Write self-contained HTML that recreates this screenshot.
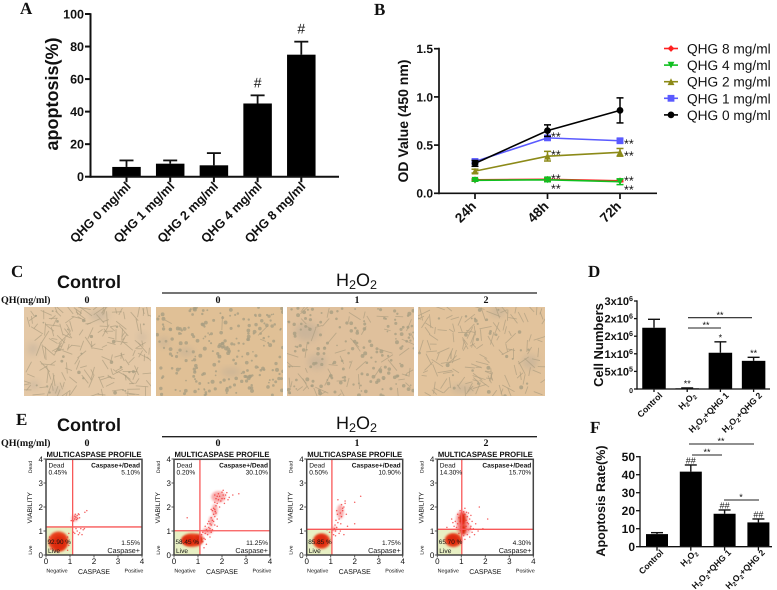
<!DOCTYPE html>
<html lang="en">
<head>
<meta charset="utf-8">
<title>QHG apoptosis figure</title>
<style>
html,body{margin:0;padding:0;background:#fff;width:777px;height:590px;overflow:hidden}
svg#fig{display:block;filter:blur(0.35px)}
text{font-family:"Liberation Sans",sans-serif;fill:#111;text-rendering:geometricPrecision}
.letter{font-family:"Liberation Serif",serif;font-weight:bold;font-size:17px}
.qh{font-family:"Liberation Serif",serif;font-weight:bold;font-size:10px}
.num{font-family:"Liberation Serif",serif;font-weight:bold;font-size:10px;text-anchor:middle}
.head-b{font-weight:bold;font-size:18px}
.head-n{font-size:18px}
</style>
</head>
<body>
<svg id="fig" xmlns="http://www.w3.org/2000/svg" width="777" height="590" viewBox="0 0 777 590">
  <rect width="777" height="590" fill="#fff"/>
  <text class="letter" x="20" y="14">A</text>
  <text class="letter" x="374" y="15">B</text>
  <text class="letter" x="11" y="277">C</text>
  <text class="letter" x="588" y="277">D</text>
  <text class="letter" x="16" y="425">E</text>
  <text class="letter" x="590" y="433">F</text>

  <text class="head-b" x="57" y="288">Control</text>
  <text class="head-n" x="336" y="286">H<tspan baseline-shift="-2.5" font-size="70%">2</tspan>O<tspan baseline-shift="-2.5" font-size="70%">2</tspan></text>
  <line x1="162" x2="537" y1="293" y2="293" stroke="#222" stroke-width="1.3"/>
  <text class="qh" x="1" y="303">QH(mg/ml)</text>
  <text class="num" x="87" y="303">0</text>
  <text class="num" x="218" y="303">0</text>
  <text class="num" x="357" y="303">1</text>
  <text class="num" x="486" y="303">2</text>

  <text class="head-b" x="57" y="431">Control</text>
  <text class="head-n" x="336" y="429">H<tspan baseline-shift="-2.5" font-size="70%">2</tspan>O<tspan baseline-shift="-2.5" font-size="70%">2</tspan></text>
  <line x1="162" x2="537" y1="436.7" y2="436.7" stroke="#222" stroke-width="1.3"/>
  <text class="qh" x="1" y="446">QH(mg/ml)</text>
  <text class="num" x="87" y="446">0</text>
  <text class="num" x="218" y="446">0</text>
  <text class="num" x="357" y="446">1</text>
  <text class="num" x="486" y="446">2</text>
</svg>
<script>
/* ---------- Panel A data ---------- */
const aCategories = ["QHG 0 mg/ml","QHG 1 mg/ml","QHG 2 mg/ml","QHG 4 mg/ml","QHG 8 mg/ml"];
const aValues = [6, 8, 7, 45, 75];
const aErrorTops = [10, 10, 14.5, 50, 83];
const aMarks = ["","","","#","#"];
const aTicks = [0,20,40,60,80,100];

/* ---------- Panel B data ---------- */
const bTimes = ["24h","48h","72h"];
const bTicks = [0,0.5,1,1.5];
const bSeriesNames = ["QHG 8 mg/ml","QHG 4 mg/ml","QHG 2 mg/ml","QHG 1 mg/ml","QHG 0 mg/ml"];
const bQhg8 = [0.14, 0.145, 0.13];
const bQhg4 = [0.135, 0.14, 0.12];
const bQhg2 = [0.23, 0.385, 0.425];
const bQhg1 = [0.33, 0.575, 0.545];
const bQhg0 = [0.31, 0.65, 0.86];
const bErr8 = [0.01, 0.01, 0.01];
const bErr4 = [0.01, 0.02, 0.03];
const bErr2 = [0.02, 0.05, 0.04];
const bErr1 = [0.02, 0.02, 0.02];
const bErr0 = [0.03, 0.06, 0.13];

/* ---------- Panel D data ---------- */
const dCategories = ["Control","H_2O_2","H_2O_2+QHG 1","H_2O_2+QHG 2"];
const dValues = [1740000, 20000, 1030000, 800000];
const dErrorTops = [1980000, 30000, 1340000, 900000];
const dMarks = ["","**","*","**"];
const dTicks = [0,500000,1000000,1500000,2000000,2500000];
const dTickLabels = ["0","5x10^5","1x10^6","2x10^6","2x10^6","3x10^6"];

/* ---------- Panel F data ---------- */
const fCategories = ["Control","H_2O_2","H_2O_2+QHG 1","H_2O_2+QHG 2"];
const fValues = [7, 41.7, 18.3, 13.5];
const fErrorTops = [7.8, 45.4, 20.4, 15.4];
const fMarks = ["","##","##","##"];
const fTicks = [0,10,20,30,40,50];

/* ---------- Panel E data (axis units, 0-4) ---------- */
const flowDead = ["0.45%","0.20%","0.50%","14.30%"];
const flowBoth = ["5.10%","30.10%","10.90%","15.70%"];
const flowCaspase = ["1.55%","11.25%","1.75%","4.30%"];
const flowLive = ["92.90 %","58.45 %","85.85 %","65.70 %"];
const flowGateX = [1.11, 1.08, 1.05, 1.02];
const flowGateY = [1.17, 1.01, 1.07, 1.07];
const flowTicks = [0,1,2,3,4];
const flowCore1 = [[0.52,0.56,0.42,0.42],[0.55,0.5,0.28,0.3]];
const flowCore2 = [[0.76,0.62,0.45,0.28],[0.6,0.6,0.28,0.2],[1.0,0.62,0.16,0.2]];
const flowCore3 = [[0.62,0.58,0.36,0.32],[0.6,0.6,0.24,0.24]];
const flowCore4 = [[0.67,0.62,0.36,0.29],[0.65,0.64,0.24,0.2],[1.05,1.5,0.14,0.26],[1.08,1.05,0.12,0.2]];
const flowHaze1 = [[1.2,1.53,0.14,0.14]];
const flowHaze2 = [[1.7,1.87,0.12,0.26],[1.85,2.42,0.3,0.24],[1.4,1.0,0.22,0.14],[1.55,1.4,0.1,0.22],[1.05,0.75,0.18,0.14]];
const flowHaze3 = [[1.4,1.8,0.15,0.3],[1.15,1.08,0.12,0.1]];
const flowHaze4 = [[1.03,1.46,0.26,0.4],[1.1,1.1,0.3,0.28]];
const flowPts1 = [[1.2,1.5],[1.25,1.58],[1.3,1.65],[1.22,1.7],[1.35,1.72],[1.1,1.45],[1.15,1.42],[1.28,1.48],[1.4,1.55],[1.38,1.68],[1.05,1.43],[1.2,1.62],[1.32,1.53],[1.7,1.85],[1.62,1.78],[1.3,1.0],[1.45,1.1],[1.55,1.05],[1.6,1.1],[1.2,0.9],[1.35,0.85],[1.25,1.1],[1.15,0.95],[1.4,0.92],[1.5,0.85],[0.95,0.9],[0.9,0.75],[0.15,0.75],[0.95,0.4],[0.2,0.25],[0.9,0.2]];
const flowPts2 = [[1.15,0.85],[1.2,0.95],[1.3,0.9],[1.35,1.05],[1.4,1.0],[1.45,1.15],[1.5,1.1],[1.5,1.3],[1.55,1.25],[1.6,1.45],[1.65,1.4],[1.55,1.55],[1.7,1.6],[1.65,1.7],[1.75,1.75],[1.6,1.85],[1.7,1.9],[1.65,1.95],[1.72,1.82],[1.55,1.9],[1.75,2.05],[1.8,2.15],[1.7,2.2],[1.85,2.3],[1.9,2.45],[2.0,2.35],[2.05,2.5],[1.8,2.45],[1.95,2.25],[2.1,2.35],[2.15,2.5],[1.85,2.55],[2.0,2.62],[2.2,2.6],[2.3,2.4],[1.7,2.5],[1.75,2.35],[2.05,2.7],[2.25,2.3],[2.7,2.55],[2.45,2.5],[1.25,0.7],[1.3,0.65],[1.4,0.85],[1.2,0.55],[1.1,0.6],[1.55,0.95],[1.6,1.05],[1.7,1.25],[1.45,1.4],[1.8,1.5],[1.3,1.2],[1.4,1.3],[1.9,2.0],[1.5,0.75],[1.35,0.45],[0.55,1.55],[1.25,0.3],[1.8,1.2],[2.1,2.15]];
const flowPts3 = [[1.05,0.95],[1.1,1.05],[1.15,1.1],[1.2,1.0],[1.25,1.15],[1.18,1.25],[1.3,1.35],[1.22,1.45],[1.35,1.5],[1.28,1.7],[1.4,1.75],[1.45,1.6],[1.5,1.85],[1.55,2.0],[1.45,2.1],[1.6,2.15],[1.5,1.95],[1.65,1.7],[1.3,2.3],[1.6,2.25],[2.0,2.2],[2.25,2.45],[2.0,1.3],[1.7,1.2],[1.4,1.0],[1.55,0.85],[1.35,0.9],[1.2,0.8],[0.95,0.95],[0.85,1.05],[1.12,0.85],[1.42,1.3],[1.25,1.85]];
const flowPts4 = [[1.0,1.2],[1.05,1.3],[1.1,1.4],[0.95,1.4],[0.9,1.55],[1.2,1.45],[1.25,1.6],[1.15,1.7],[1.0,1.75],[0.85,1.3],[0.8,1.15],[0.75,1.4],[1.3,1.3],[1.35,1.5],[1.2,1.2],[1.3,1.05],[1.4,1.2],[1.5,1.1],[1.45,0.95],[1.25,0.85],[1.1,0.8],[1.15,0.65],[0.7,1.2],[0.65,1.35],[0.6,1.5],[1.3,1.75],[1.1,1.8],[1.4,1.65],[1.6,1.3],[1.75,2.0],[2.1,1.5],[1.45,1.4],[1.05,1.1],[0.95,1.05],[0.9,0.9],[1.35,0.75],[1.55,0.85],[1.7,1.0],[1.15,1.95],[0.95,1.85],[0.4,1.15],[1.9,1.1],[1.25,1.35],[1.08,1.62],[1.18,1.05],[1.38,1.12],[0.85,1.7],[1.22,1.78]];
const flowCores = [flowCore1, flowCore2, flowCore3, flowCore4];
const flowHazes = [flowHaze1, flowHaze2, flowHaze3, flowHaze4];
const flowPoints = [flowPts1, flowPts2, flowPts3, flowPts4];

/* ---------- helpers ---------- */
const NS = "http://www.w3.org/2000/svg";
const fig = document.getElementById("fig");

function mk(tag, attrs, parent, name) {
  const el = document.createElementNS(NS, tag);
  for (const k in attrs) el.setAttribute(k, attrs[k]);
  
  
  parent.appendChild(el);
  return el;
}
function rich(s) {
  return s.replace(/_(\d)/g, '<tspan baseline-shift="-1.5" font-size="70%">$1</tspan>')
          .replace(/\^(\d)/g, '<tspan baseline-shift="super" font-size="65%">$1</tspan>');
}
function txt(parent, x, y, str, attrs, name) {
  const el = mk("text", Object.assign({x: x, y: y}, attrs || {}), parent, name);
  el.innerHTML = rich(str);
  return el;
}
function line(parent, x1, y1, x2, y2, stroke, w, name) {
  return mk("line", {x1: x1, y1: y1, x2: x2, y2: y2, stroke: stroke, "stroke-width": w}, parent, name);
}

/* ---------- generic bar panel ---------- */
function barPanel(o) {
  const g = mk("g", {}, fig, o.id + "-chart");
  const y = v => o.y0 - (v / o.max) * (o.y0 - o.yTop);
  const x = i => o.x0 + i * o.step;
  o.values.forEach((v, i) => {
    const cx = x(i);
    line(g, cx, y(v), cx, y(o.errs[i]), "#111", o.errW, o.id + "-error-stem-" + i);
    line(g, cx - o.cap, y(o.errs[i]), cx + o.cap, y(o.errs[i]), "#111", o.errW, o.id + "-error-cap-" + i);
    mk("rect", {x: cx - o.barW / 2, y: y(v), width: o.barW, height: o.y0 - y(v), fill: "#000"}, g, o.id + "-bar-" + i);
    if (o.marks[i]) {
      txt(g, cx, y(o.errs[i]) + o.markDy, o.marks[i], {"text-anchor": "middle", "font-size": o.markSize}, o.id + "-significance-" + i);
    }
    line(g, cx, o.y0, cx, o.y0 + o.tick, "#111", o.axisW, o.id + "-x-tick-" + i);
    const lx = cx + o.labDx, ly = o.y0 + o.tick + o.labDy;
    txt(g, lx, ly, o.cats[i], {"text-anchor": "end", "font-size": o.labSize, "font-weight": "bold", transform: "rotate(-45 " + lx + " " + ly + ")"}, o.id + "-x-label-" + i);
  });
  line(g, o.axisX, o.yTop - 0.7, o.axisX, o.y0 + o.axisW / 2, "#111", o.axisW, o.id + "-y-axis");
  line(g, o.axisX, o.y0, o.xEnd, o.y0, "#111", o.axisW, o.id + "-x-axis");
  o.ticks.forEach((t, i) => {
    line(g, o.axisX - o.tick, y(t), o.axisX, y(t), "#111", o.axisW, o.id + "-y-tick-" + i);
    const s = o.tickLabels ? o.tickLabels[i] : String(t);
    txt(g, o.axisX - o.tick - 1, y(t) + o.tickSize * 0.36, s, {"text-anchor": "end", "font-size": (s === "0" && o.zeroSize) ? o.zeroSize : o.tickSize, "font-weight": "bold"}, o.id + "-y-tick-label-" + i);
  });
  const tx = o.titleX, ty = o.titleY;
  txt(g, tx, ty, o.title, {"text-anchor": "middle", "font-size": o.titleSize, "font-weight": "bold", transform: "rotate(-90 " + tx + " " + ty + ")"}, o.id + "-y-axis-title");
  return g;
}

/* Panel A */
barPanel({id: "panel-a", cats: aCategories, values: aValues, errs: aErrorTops, marks: aMarks, ticks: aTicks,
  max: 100, y0: 176.7, yTop: 14, x0: 126.5, step: 43.7, barW: 28.5, cap: 7, errW: 1.8, axisW: 2, axisX: 90.5, xEnd: 339, tick: 5.5,
  labDx: 5, labDy: 5, labSize: 12.6, tickSize: 12.5, title: "apoptosis(%)", titleX: 58, titleY: 94, titleSize: 18, markDy: -8, markSize: 14});

/* Panel D */
barPanel({id: "panel-d", cats: dCategories, values: dValues, errs: dErrorTops, marks: dMarks, ticks: dTicks, tickLabels: dTickLabels,
  max: 2500000, y0: 389, yTop: 301, x0: 654, step: 33.2, barW: 23.5, cap: 6, errW: 1.4, axisW: 1.3, axisX: 637, xEnd: 770, tick: 3,
  labDx: 9, labDy: 4, labSize: 8.8, tickSize: 11, zeroSize: 7, title: "Cell Numbers", titleX: 603, titleY: 345, titleSize: 13, markDy: -1.5, markSize: 9});

/* Panel F */
barPanel({id: "panel-f", cats: fCategories, values: fValues, errs: fErrorTops, marks: fMarks, ticks: fTicks,
  max: 50, y0: 546.7, yTop: 456.7, x0: 657, step: 33.8, barW: 22, cap: 6, errW: 1.4, axisW: 1.3, axisX: 640, xEnd: 772, tick: 4,
  labDx: 7, labDy: 2.5, labSize: 8.6, tickSize: 12, title: "Apoptosis Rate(%)", titleX: 605, titleY: 501, titleSize: 12.5, markDy: -1.5, markSize: 9});

/* significance brackets in D and F */
(function () {
  const g = mk("g", {}, fig, "significance-brackets");
  line(g, 688, 317.7, 752, 317.7, "#222", 1.1, "panel-d-bracket-h2o2-qhg2");
  txt(g, 720, 318, "**", {"text-anchor": "middle", "font-size": 9}, "panel-d-bracket-h2o2-qhg2-stars");
  line(g, 688, 328, 721, 328, "#222", 1.1, "panel-d-bracket-h2o2-qhg1");
  txt(g, 706, 328, "**", {"text-anchor": "middle", "font-size": 9}, "panel-d-bracket-h2o2-qhg1-stars");
  line(g, 689, 444, 754, 444, "#222", 1.1, "panel-f-bracket-h2o2-qhg2");
  txt(g, 721, 444, "**", {"text-anchor": "middle", "font-size": 9}, "panel-f-bracket-h2o2-qhg2-stars");
  line(g, 692, 455, 722, 455, "#222", 1.1, "panel-f-bracket-h2o2-qhg1");
  txt(g, 707, 455, "**", {"text-anchor": "middle", "font-size": 9}, "panel-f-bracket-h2o2-qhg1-stars");
  line(g, 724, 500, 759, 500, "#222", 1.1, "panel-f-bracket-qhg1-qhg2");
  txt(g, 741, 500, "*", {"text-anchor": "middle", "font-size": 9}, "panel-f-bracket-qhg1-qhg2-star");
})();

/* Panel B */
(function () {
  const g = mk("g", {}, fig, "panel-b-chart");
  const y = v => 193.3 - (v / 1.5) * 144.6;
  const x = i => 475 + i * 72.5;
  const colors = ["#ff2020", "#10c020", "#8c8a18", "#5a5aff", "#000000"];
  const shapes = ["diamond", "tridown", "triup", "square", "circle"];
  const vals = [bQhg8, bQhg4, bQhg2, bQhg1, bQhg0];
  const errs = [bErr8, bErr4, bErr2, bErr1, bErr0];
  function marker(parent, cx, cy, shape, color, name) {
    const r = 3.4;
    if (shape === "circle") return mk("circle", {cx: cx, cy: cy, r: r, fill: color}, parent, name);
    if (shape === "square") return mk("rect", {x: cx - r, y: cy - r, width: 2 * r, height: 2 * r, fill: color}, parent, name);
    const pts = shape === "diamond" ? [[0,-r],[r,0],[0,r],[-r,0]]
      : shape === "triup" ? [[0,-r],[r,r],[-r,r]] : [[-r,-r],[r,-r],[0,r]];
    return mk("polygon", {points: pts.map(p => (cx + p[0]) + "," + (cy + p[1])).join(" "), fill: color}, parent, name);
  }
  vals.forEach((series, s) => {
    const key = bSeriesNames[s].replace(/ /g, "-").replace("/", "-per-").toLowerCase();
    mk("polyline", {points: series.map((v, i) => x(i) + "," + y(v)).join(" "), fill: "none", stroke: colors[s], "stroke-width": 1.6}, g, "line-" + key);
    series.forEach((v, i) => {
      const hi = y(v + errs[s][i]), lo = y(v - errs[s][i]);
      line(g, x(i), hi, x(i), lo, colors[s], 1.5, "error-stem-" + key + "-" + bTimes[i]);
      line(g, x(i) - 3.5, hi, x(i) + 3.5, hi, colors[s], 1.5, "error-cap-top-" + key + "-" + bTimes[i]);
      line(g, x(i) - 3.5, lo, x(i) + 3.5, lo, colors[s], 1.5, "error-cap-bottom-" + key + "-" + bTimes[i]);
      marker(g, x(i), y(v), shapes[s], colors[s], "point-" + key + "-" + bTimes[i]);
    });
    const ly = 48.5 + s * 16.6;
    line(g, 664, ly, 678, ly, colors[s], 1.6, "legend-line-" + key);
    marker(g, 671, ly, shapes[s], colors[s], "legend-marker-" + key);
    txt(g, 687, ly + 5, bSeriesNames[s], {"font-size": 13.7}, "legend-label-" + key);
  });
  line(g, 439, 47.7, 439, 194.2, "#111", 1.7, "panel-b-y-axis");
  line(g, 439, 193.3, 657, 193.3, "#111", 1.7, "panel-b-x-axis");
  bTicks.forEach((t, i) => {
    line(g, 434, y(t), 439, y(t), "#111", 1.7, "panel-b-y-tick-" + i);
    txt(g, 433, y(t) + 4.4, t.toFixed(1), {"text-anchor": "end", "font-size": 12, "font-weight": "bold"}, "panel-b-y-tick-label-" + i);
  });
  bTimes.forEach((t, i) => {
    line(g, x(i), 193.3, x(i), 199, "#111", 1.7, "panel-b-x-tick-" + t);
    const lx = x(i) + 2, ly = 207;
    txt(g, lx, ly, t, {"text-anchor": "end", "font-size": 13.5, "font-weight": "bold", transform: "rotate(-45 " + lx + " " + ly + ")"}, "panel-b-x-label-" + t);
  });
  txt(g, 408, 121, "OD Value (450 nm)", {"text-anchor": "middle", "font-size": 14, "font-weight": "bold", transform: "rotate(-90 408 121)"}, "panel-b-y-axis-title");
  const starRows = [[551,141],[551,159],[551,183],[551,193],[624,148],[624,160],[624,185],[624,194]];
  starRows.forEach((p, i) => {
    txt(g, p[0], p[1], "**", {"font-size": 12.5}, "panel-b-significance-" + i);
  });
})();

/* Panel C micrographs (procedural texture, not chart data) */
(function () {
  const g = mk("g", {}, fig, "panel-c-micrographs");
  let seed = 4711;
  const rnd = () => { seed = (seed * 16807) % 2147483647; return seed / 2147483647; };
  const defs = mk("defs", {}, g, "micrograph-defs");
  const f = mk("filter", {id: "soft", x: "-50%", y: "-50%", width: "200%", height: "200%"}, defs, "micrograph-soft-filter");
  mk("feGaussianBlur", {stdDeviation: 3.5}, f, "micrograph-soft-blur");
  const frames = [
    {x: 24, w: 127, bg: "#e4c8a6", spindle: 190, round: 26, name: "control",
     patches: [[9,42,5,6],[32,84,6,5],[10,78,5,4],[75,8,10,5],[118,30,4,4]]},
    {x: 156, w: 127, bg: "#e0c096", spindle: 4, round: 230, name: "h2o2-0",
     patches: [[8,35,5,5],[30,45,8,4],[75,65,10,4]]},
    {x: 287, w: 127, bg: "#dfc09c", spindle: 60, round: 170, name: "h2o2-1",
     patches: [[20,25,12,9],[30,55,9,7]]},
    {x: 418, w: 127, bg: "#e2c39c", spindle: 150, round: 30, name: "h2o2-2",
     patches: [[112,55,8,7],[80,5,8,5],[45,82,12,4]]}
  ];
  frames.forEach(fr => {
    const s = mk("svg", {x: fr.x, y: 307, width: fr.w, height: 89, viewBox: "0 0 " + fr.w + " 89"}, g, "micrograph-" + fr.name);
    mk("rect", {width: fr.w, height: 89, fill: fr.bg}, s, "micrograph-" + fr.name + "-background");
    fr.patches.forEach(p => {
      mk("ellipse", {cx: p[0], cy: p[1], rx: p[2], ry: p[3], fill: "#a5a096", opacity: 0.35, filter: "url(#soft)"}, s, "micrograph-" + fr.name + "-shadow");
    });
    for (let i = 0; i < fr.spindle; i++) {
      const cx = rnd() * fr.w, cy = rnd() * 89, a = rnd() * 3.14, l = 2.5 + rnd() * 5;
      const dx = Math.cos(a) * l, dy = Math.sin(a) * l;
      mk("line", {x1: cx - dx, y1: cy - dy, x2: cx + dx, y2: cy + dy, stroke: "#ad9e80", "stroke-width": 0.9, opacity: 0.7}, s, "micrograph-cell");
    }
    for (let i = 0; i < fr.round; i++) {
      mk("circle", {cx: rnd() * fr.w, cy: rnd() * 89, r: 0.8 + rnd() * 1.2, fill: "#a89e82", opacity: 0.8}, s, "micrograph-cell");
    }
  });
})();

/* Panel E flow plots */
(function () {
  const g = mk("g", {}, fig, "panel-e-flow-plots");
  const defs = mk("defs", {}, g, "flow-defs");
  const f = mk("filter", {id: "coreblur", x: "-50%", y: "-50%", width: "200%", height: "200%"}, defs, "flow-core-filter");
  mk("feGaussianBlur", {stdDeviation: 1}, f, "flow-core-blur");
  const lefts = [46, 174, 306.7, 437.3];
  lefts.forEach((L, p) => {
    const id = "flow-plot-" + (p + 1);
    const pg = mk("g", {}, g, id);
    const X = v => L + v * 24, Y = v => 555 - v * 24;
    const gx = X(flowGateX[p]), gy = Y(flowGateY[p]);
    mk("rect", {x: L, y: gy, width: gx - L, height: 555 - gy, fill: "#e8f0c4"}, pg, id + "-live-quadrant");
    flowHazes[p].forEach((c, i) => {
      mk("ellipse", {cx: X(c[0]), cy: Y(c[1]), rx: c[2] * 24, ry: c[3] * 24, fill: "#f03030", opacity: 0.4, filter: "url(#coreblur)"}, pg, id + "-sparse-cluster-" + i);
    });
    flowCores[p].forEach((c, i) => {
      mk("ellipse", {cx: X(c[0]), cy: Y(c[1]), rx: c[2] * 24, ry: c[3] * 24, fill: i === 0 ? "#e8401c" : "#dd2a10", filter: "url(#coreblur)"}, pg, id + "-dense-cluster-" + i);
    });
    flowPoints[p].forEach(c => {
      mk("circle", {cx: X(c[0]), cy: Y(c[1]), r: 0.75, fill: "#f02020", opacity: 0.7}, pg, id + "-event");
    });
    line(pg, gx, 459.3, gx, 555, "#f85858", 1.3, id + "-gate-vertical");
    line(pg, L, gy, L + 96, gy, "#f85858", 1.3, id + "-gate-horizontal");
    mk("rect", {x: L, y: 459.3, width: 96, height: 95.7, fill: "none", stroke: "#444", "stroke-width": 1.5}, pg, id + "-frame");
    flowTicks.forEach(t => {
      line(pg, X(t), 555, X(t), 557.5, "#444", 0.9, id + "-x-tick-" + t);
      line(pg, L - 2.5, Y(t), L, Y(t), "#444", 0.9, id + "-y-tick-" + t);
      txt(pg, X(t), 564, String(t), {"text-anchor": "middle", "font-size": 8}, id + "-x-tick-label-" + t);
      txt(pg, L - 3, Y(t) + 2.8, String(t), {"text-anchor": "end", "font-size": 8}, id + "-y-tick-label-" + t);
    });
    txt(pg, L + 48, 457, "MULTICASPASE PROFILE", {"text-anchor": "middle", "font-size": 7.7, "font-weight": "bold"}, id + "-title");
    txt(pg, L + 2.5, 467.5, "Dead", {"font-size": 6.6}, id + "-dead-label");
    txt(pg, L + 2.5, 474.3, flowDead[p], {"font-size": 6.6}, id + "-dead-percent");
    txt(pg, L + 94, 467.7, "Caspase+/Dead", {"text-anchor": "end", "font-size": 6.6, "font-weight": "bold"}, id + "-both-label");
    txt(pg, L + 94, 474.3, flowBoth[p], {"text-anchor": "end", "font-size": 6.6}, id + "-both-percent");
    txt(pg, L + 94, 545, flowCaspase[p], {"text-anchor": "end", "font-size": 6.6}, id + "-caspase-percent");
    txt(pg, L + 94, 552.8, "Caspase+", {"text-anchor": "end", "font-size": 7.2}, id + "-caspase-label");
    txt(pg, L + 1.5, 544.2, flowLive[p], {"font-size": 6.4}, id + "-live-percent");
    txt(pg, L + 2, 552.8, "Live", {"font-size": 6.6}, id + "-live-label");
    txt(pg, L + 48, 574, "CASPASE", {"text-anchor": "middle", "font-size": 6.9}, id + "-x-axis-title");
    txt(pg, L + 11, 572.7, "Negative", {"text-anchor": "middle", "font-size": 5.4}, id + "-negative-label");
    txt(pg, L + 88, 572.7, "Positive", {"text-anchor": "middle", "font-size": 5.4}, id + "-positive-label");
    const tx = L - 14;
    txt(pg, tx, 507.7, "VIABILITY", {"text-anchor": "middle", "font-size": 6.7, transform: "rotate(-90 " + tx + " 507.7)"}, id + "-y-axis-title");
    txt(pg, tx, 467, "Dead", {"text-anchor": "middle", "font-size": 5, transform: "rotate(-90 " + tx + " 467)"}, id + "-y-dead-label");
    txt(pg, tx, 550, "Live", {"text-anchor": "middle", "font-size": 5, transform: "rotate(-90 " + tx + " 550)"}, id + "-y-live-label");
  });
})();
</script>
</body>
</html>
